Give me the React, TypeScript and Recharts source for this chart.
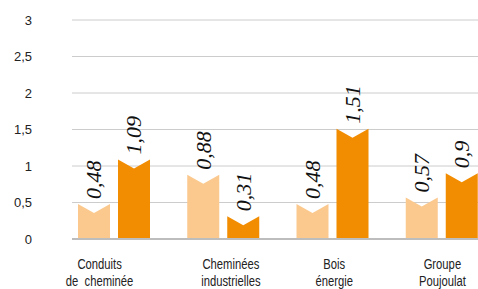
import { BarChart, Bar, XAxis, YAxis, CartesianGrid, LabelList } from 'recharts';

const categories = ['Conduits\nde  cheminée', 'Cheminées\nindustrielles', 'Bois\nénergie', 'Groupe\nPoujoulat'];
const seriesA = [0.48, 0.88, 0.48, 0.57];
const seriesB = [1.09, 0.31, 1.51, 0.9];
const yTicks = [0, 0.5, 1, 1.5, 2, 2.5, 3];

const data = categories.map((name, i) => ({ name, a: seriesA[i], b: seriesB[i] }));

// small horizontal nudges of the category labels, as in the original layout
const tickShift = [-14, 8, 2, 1];

const fmt = (v: number) => String(v).replace('.', ',');

function NotchedBar(props: any) {
  const { x, y, width, height, fill } = props;
  if (!height || height <= 0) return null;
  const d = Math.min(9, height);
  const path = `M${x},${y + height} L${x},${y} L${x + width / 2},${y + d} L${x + width},${y} L${x + width},${y + height} Z`;
  return <path d={path} fill={fill} />;
}

function ValueLabel(props: any) {
  const { x, y, width, value } = props;
  const cx = x + width / 2;
  const ty = y - 5;
  return (
    <text
      x={cx}
      y={ty}
      dy="0.34em"
      transform={`rotate(-90 ${cx} ${ty})`}
      textAnchor="start"
      fontFamily="'Liberation Serif', serif"
      fontStyle="italic"
      fontSize={22}
      fill="#111"
    >
      {fmt(value)}
    </text>
  );
}

function CategoryTick(props: any) {
  const { x, y, payload, index } = props;
  const lines = String(payload.value).split('\n');
  return (
    <g transform={`translate(${x + (tickShift[index] ?? 0)},${y}) scale(0.75,1)`}>
      <text
        x={0}
        y={30}
        textAnchor="middle"
        fontFamily="'Liberation Sans', sans-serif"
        fontSize={15}
        fill="#222"
        style={{ whiteSpace: 'pre' }}
      >
        {lines.map((l, i) => (
          <tspan key={i} x={0} dy={i === 0 ? 0 : 17.5}>
            {l}
          </tspan>
        ))}
      </text>
    </g>
  );
}

export default function App() {
  return (
    <div style={{ position: 'absolute', left: 0, top: 0, width: 478, height: 289, background: '#fff', overflow: 'hidden' }}>
      <BarChart
        width={478}
        height={289}
        data={data}
        margin={{ top: 20, right: 0, left: 0, bottom: 0 }}
        barSize={32}
        barGap={8}
      >
        <CartesianGrid vertical={false} stroke="#cccccc" />
        <XAxis
          dataKey="name"
          height={50}
          padding={{ left: -13, right: -18 }}
          axisLine={{ stroke: '#bdbdbd', strokeWidth: 2 }}
          tickLine={false}
          tickSize={0}
          tickMargin={0}
          interval={0}
          tick={<CategoryTick />}
        />
        <YAxis
          width={72}
          domain={[0, 3]}
          ticks={yTicks}
          axisLine={false}
          tickLine={false}
          tickSize={0}
          tickMargin={40}
          tickFormatter={fmt}
          tick={{ fontFamily: "'Liberation Sans', sans-serif", fontSize: 13, fill: '#222' }}
        />
        <Bar dataKey="a" fill="#FBC98E" shape={<NotchedBar />} isAnimationActive={false}>
          <LabelList dataKey="a" content={<ValueLabel />} />
        </Bar>
        <Bar dataKey="b" fill="#F28C00" shape={<NotchedBar />} isAnimationActive={false}>
          <LabelList dataKey="b" content={<ValueLabel />} />
        </Bar>
      </BarChart>
    </div>
  );
}
